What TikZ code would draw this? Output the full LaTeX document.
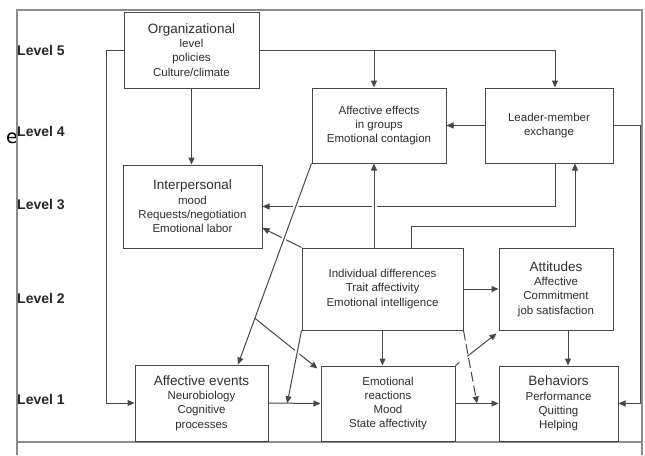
\documentclass[tikz,border=0pt]{standalone}
\usepackage{fontspec}
\setmainfont{Liberation Sans}
\newfontfamily\strayfont{DejaVu Sans}
\usepackage{tikz}
\usetikzlibrary{
  arrows.meta
}
\colorlet{wire}{black!72}
\colorlet{ink}{black!82}
\colorlet{frame}{black!45}
\newcommand\boxtitle[1]{{\fontsize{13.5}{15}\selectfont #1}}
\tikzset{
  box/.style={draw=wire, line width=1pt, fill=white, align=center, text=ink,
    inner sep=0pt, font=\fontsize{11.5}{14.3}\selectfont},
  arr/.style={draw=wire, line width=1pt, -{Triangle[length=7pt,width=6pt]}},
  bridge/.style={preaction={draw=white, line width=5pt, -, shorten <=8pt, shorten >=10pt}},
  level/.style={anchor=west, inner sep=0pt, text=black!85,
    font=\fontsize{14}{16}\selectfont\bfseries}
}

\begin{document}
\begin{tikzpicture}[x=1pt, y=-1pt]
\useasboundingbox (0,0) rectangle (645,455);
\node[anchor=center, inner sep=0pt, font=\strayfont\fontsize{19}{20}\selectfont] (stray) at (12,138) {e};
\draw[frame, line width=1.6pt] (17,455) -- (17,10) -- (642,10) -- (642,455);
\draw[frame, line width=1.6pt] (17,442) -- (642,442);

\node[level] (l5) at (17,50) {Level 5};
\node[level] (l4) at (17,131) {Level 4};
\node[level] (l3) at (17,205) {Level 3};
\node[level] (l2) at (17,298) {Level 2};
\node[level] (l1) at (17,399) {Level 1};

\node[box, minimum width=135pt, minimum height=76pt] (org) at (191.5,50)
  {\boxtitle{Organizational}\\level\\policies\\Culture/climate};
\node[box, minimum width=139pt, minimum height=83pt] (ip) at (192.5,206.5)
  {\boxtitle{Interpersonal}\\mood\\Requests/negotiation\\Emotional labor};
\node[box, minimum width=134pt, minimum height=75pt] (aeg) at (379,125.5)
  {Affective effects\\in groups\\Emotional contagion};
\node[box, minimum width=128pt, minimum height=75pt] (lmx) at (549,125.5)
  {Leader-member\\exchange};
\node[box, minimum width=161pt, minimum height=82pt] (id) at (382.5,289)
  {Individual differences\\Trait affectivity\\Emotional intelligence};
\node[box, minimum width=114pt, minimum height=82pt] (att) at (556,289)
  {\boxtitle{Attitudes}\\Affective\\Commitment\\job satisfaction};
\node[box, minimum width=133pt, minimum height=76pt] (ae) at (201.5,403)
  {\boxtitle{Affective events}\\Neurobiology\\Cognitive\\processes};
\node[box, minimum width=134pt, minimum height=75pt] (er) at (388,403.5)
  {Emotional\\reactions\\Mood\\State affectivity};
\node[box, minimum width=119pt, minimum height=75pt] (beh) at (558.5,403.5)
  {\boxtitle{Behaviors}\\Performance\\Quitting\\Helping};

\draw[arr] (org.west) -- ++(-17,0) |- (ae.west);
\draw[arr] (org.east) -| ([xshift=6]lmx.north);
\draw[arr] ([xshift=-5]aeg.north |- org.east) -- ([xshift=-5]aeg.north);
\draw[arr] (org.south) -- (org.south |- ip.north);
\draw[arr] (lmx.west) -- (aeg.east);
\draw[arr] (lmx.east) -- ++(27,0) |- (beh.east);
\draw[arr] ([xshift=6]lmx.south) |- (ip.east);
\draw[arr, bridge] ([xshift=-8.5]id.north) -- ([xshift=-5]aeg.south);
\draw[arr] ([xshift=28.5]id.north) -- ++(0,-21) -| ([xshift=26]lmx.south);
\draw[arr] (id.east) -- (att.west);
\draw[arr] (id.south) -- (id.south |- er.north);
\draw[arr] ([xshift=12]att.south) -- ([xshift=9.5]beh.north);
\draw[arr] (ae.east) -- coordinate[pos=0.36] (hit1) (er.west);
\draw[arr] (er.east) -- coordinate[pos=0.5] (hit2) (beh.west);
\draw[arr] (id.north west) -- ([yshift=-21.5]ip.east);
\draw[arr, bridge] (aeg.south west) -- coordinate[pos=0.77] (fork) ([xshift=36.5]ae.north);
\draw[arr] (fork) -- ([xshift=-3,yshift=-3]er.north west);
\draw[arr, bridge] (id.south west) -- (hit1);
\draw[arr, dash pattern=on 10pt off 4pt] (id.south east) -- (hit2);
\draw[arr, dash pattern=on 5pt off 10pt on 40pt] (er.north east) -- ([xshift=-2,yshift=-3]att.south west);
\end{tikzpicture}
\end{document}
